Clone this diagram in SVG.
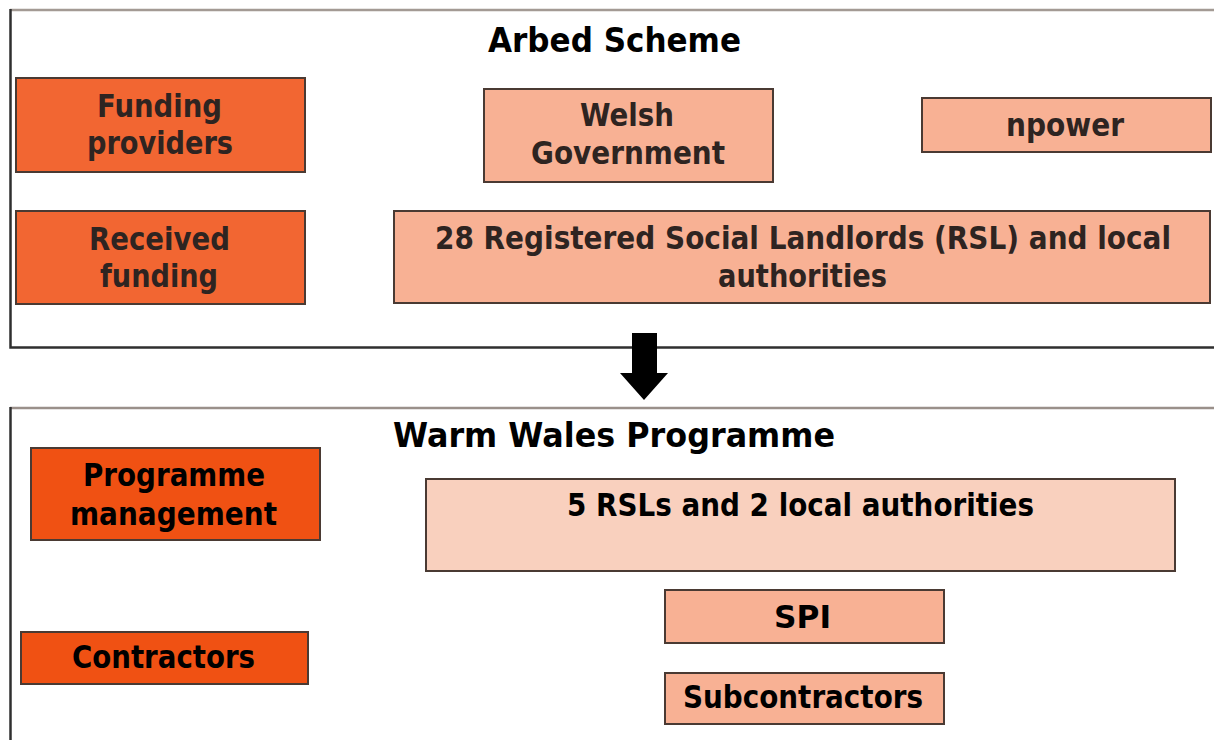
<svg xmlns="http://www.w3.org/2000/svg" width="1214" height="740" viewBox="0 0 1214 740">
  <style>
    text { font-family: "DejaVu Sans", Verdana, sans-serif; font-weight: bold; text-anchor: start; }
    .t-top { fill: #2e2421; font-size: 32px; }
    .t-bot { fill: #000000; font-size: 32px; }
    .title { font-size: 34px; fill: #000000; }
    .box { stroke: #4a3a33; stroke-width: 2; }
    .orange { fill: #F26632; }
    .red { fill: #F05113; }
    .salmon { fill: #F8B194; }
    .pale { fill: #F9D0BE; }
    .frame-top { stroke: #a39a94; stroke-width: 2.5; fill: none; }
    .frame-side { stroke: #2f2f2f; stroke-width: 2.5; fill: none; }
  </style>

  <rect width="1214" height="740" fill="#ffffff"/>

  <!-- Arbed Scheme panel -->
  <g id="panel-arbed">
    <line class="frame-top" x1="10" y1="10" x2="1214" y2="10"/>
    <polyline class="frame-side" points="10.5,9 10.5,347.5 1214,347.5"/>
    <text class="title" x="488" y="52" textLength="253" lengthAdjust="spacingAndGlyphs">Arbed Scheme</text>
  </g>

  <g id="node-funding-providers">
    <rect class="box orange" x="16" y="78" width="289" height="94"/>
    <text class="t-top" x="97" y="117" textLength="125" lengthAdjust="spacingAndGlyphs">Funding</text>
    <text class="t-top" x="87" y="154" textLength="146" lengthAdjust="spacingAndGlyphs">providers</text>
  </g>

  <g id="node-received-funding">
    <rect class="box orange" x="16" y="211" width="289" height="93"/>
    <text class="t-top" x="89" y="250" textLength="141" lengthAdjust="spacingAndGlyphs">Received</text>
    <text class="t-top" x="100" y="287" textLength="118" lengthAdjust="spacingAndGlyphs">funding</text>
  </g>

  <g id="node-welsh-government">
    <rect class="box salmon" x="484" y="89" width="289" height="93"/>
    <text class="t-top" x="580" y="126" textLength="94" lengthAdjust="spacingAndGlyphs">Welsh</text>
    <text class="t-top" x="531" y="164" textLength="194" lengthAdjust="spacingAndGlyphs">Government</text>
  </g>

  <g id="node-npower">
    <rect class="box salmon" x="922" y="98" width="289" height="54"/>
    <text class="t-top" x="1006" y="136" textLength="118" lengthAdjust="spacingAndGlyphs">npower</text>
  </g>

  <g id="node-rsl-28">
    <rect class="box salmon" x="394" y="211" width="816" height="92"/>
    <text class="t-top" x="435" y="249" textLength="736" lengthAdjust="spacingAndGlyphs">28 Registered Social Landlords (RSL) and local</text>
    <text class="t-top" x="718" y="287" textLength="169" lengthAdjust="spacingAndGlyphs">authorities</text>
  </g>

  <!-- transition arrow -->
  <g id="connectors">
    <polygon points="632,333 657,333 657,373 668,373 644,400 620,373 632,373" fill="#000000"/>
  </g>

  <!-- Warm Wales Programme panel -->
  <g id="panel-warm-wales">
    <line class="frame-top" x1="10" y1="408" x2="1214" y2="408" style="stroke:#9a908a"/>
    <line class="frame-side" x1="10.5" y1="407" x2="10.5" y2="740"/>
    <text class="title" x="393" y="447" textLength="442" lengthAdjust="spacingAndGlyphs">Warm Wales Programme</text>
  </g>

  <g id="node-programme-management">
    <rect class="box red" x="31" y="448" width="289" height="92"/>
    <text class="t-bot" x="83" y="486" textLength="182" lengthAdjust="spacingAndGlyphs">Programme</text>
    <text class="t-bot" x="70" y="525" textLength="207" lengthAdjust="spacingAndGlyphs">management</text>
  </g>

  <g id="node-contractors">
    <rect class="box red" x="21" y="632" width="287" height="52"/>
    <text class="t-bot" x="72" y="668" textLength="183" lengthAdjust="spacingAndGlyphs">Contractors</text>
  </g>

  <g id="node-rsl-5">
    <rect class="box pale" x="426" y="479" width="749" height="92"/>
    <text class="t-bot" x="567" y="516" textLength="467" lengthAdjust="spacingAndGlyphs">5 RSLs and 2 local authorities</text>
  </g>

  <g id="node-spi">
    <rect class="box salmon" x="665" y="590" width="279" height="53"/>
    <text class="t-bot" x="774" y="628" textLength="57" lengthAdjust="spacingAndGlyphs">SPI</text>
  </g>

  <g id="node-subcontractors">
    <rect class="box salmon" x="665" y="673" width="279" height="51"/>
    <text class="t-bot" x="683" y="708" textLength="240" lengthAdjust="spacingAndGlyphs">Subcontractors</text>
  </g>
</svg>
